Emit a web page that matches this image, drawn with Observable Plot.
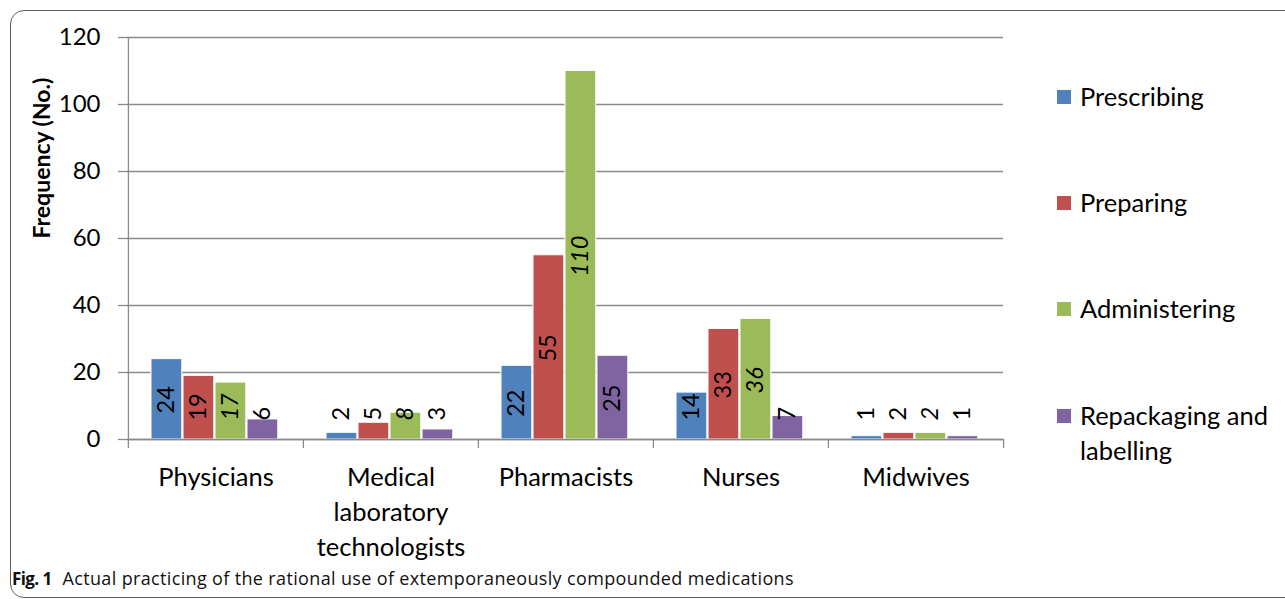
<!DOCTYPE html>
<html>
<head>
<meta charset="utf-8">
<script src="https://cdn.jsdelivr.net/npm/d3@7"></script>
<script src="https://cdn.jsdelivr.net/npm/@observablehq/plot@0.6"></script>
<style>
  body { margin: 0; background: #fff; }
  #wrap { position: relative; width: 1285px; height: 599px; overflow: hidden; background: #fff; font-family: Lato, "Open Sans", sans-serif; color: #000; }
  #frame { position: absolute; left: 10px; top: 10px; width: 1400px; height: 588px; border: 1.3px solid #5e5e5e; border-radius: 14px; box-sizing: border-box; }
  #chart { position: absolute; left: 0; top: 0; }
  #legend { position: absolute; left: 1057px; top: 0; }
  .item { position: absolute; left: 0; display: flex; align-items: flex-start; font-size: 25.5px; line-height: 35px; width: 228px; }
  .sw { width: 14px; height: 14px; margin-top: 11px; margin-right: 9px; flex: none; }
  #caption { position: absolute; left: 12px; top: 566px; font-family: "Open Sans", sans-serif; font-size: 18px; color: #111; white-space: nowrap; }
  #caption b { margin-right: 11px; letter-spacing: -0.6px; font-size: 17px; }
  #caption span { letter-spacing: 0.35px; }
</style>
</head>
<body>
<div id="wrap">
  <div id="frame"></div>
  <div id="chart"></div>
  <div id="legend"></div>
  <div id="caption"><b>Fig. 1</b><span>Actual practicing of the rational use of extemporaneously compounded medications</span></div>
</div>
<script>
// ---- data ----
const categories = ["Physicians", "Medical laboratory technologists", "Pharmacists", "Nurses", "Midwives"];
const categoryLabels = ["Physicians", "Medical\nlaboratory\ntechnologists", "Pharmacists", "Nurses", "Midwives"];
const series = ["Prescribing", "Preparing", "Administering", "Repackaging and labelling"];
const colors = ["#4F81BD", "#C0504D", "#9BBB59", "#8064A2"];
const prescribing = [24, 2, 22, 14, 1];
const preparing = [19, 5, 55, 33, 2];
const administering = [17, 8, 110, 36, 2];
const repackaging = [6, 3, 25, 7, 1];
const yTicks = [0, 20, 40, 60, 80, 100, 120];

const seriesValues = [prescribing, preparing, administering, repackaging];
const rows = series.flatMap((s, j) => categories.map((c, i) => ({category: c, series: s, j, value: seriesValues[j][i]})));

// ---- layout ----
const W = 1010, H = 560, mL = 127, mR = 7, mT = 37, mB = 121;
const band = (W - mL - mR) / categories.length;
const groupOffset = 23, barW = 31, step = 32;
const gray = "#8a8a8a";
const fs = 23.5;

const labelY = d => Math.max(d.value / 2 - String(d.value).length * 2.12, 5.67);

const marks = [
  Plot.gridY(yTicks, {stroke: gray, strokeOpacity: 1, strokeWidth: 1.3}),
  Plot.axisY(yTicks, {tickSize: 9, tickPadding: 18, stroke: gray, strokeWidth: 1.3, fontSize: 24, label: null, fill: "#000"}),
  Plot.text(["Frequency (No.)"], {frameAnchor: "left", rotate: -90, dx: -85, fontWeight: "bold", fontSize: 23, fill: "#000"}),
  ...series.map((s, j) => Plot.barY(rows.filter(d => d.j === j), {
    x: "category", y: "value", fill: colors[j], stroke: "#fff", strokeWidth: 1,
    insetLeft: groupOffset + j * step, insetRight: band - (groupOffset + j * step + barW)
  })),
  Plot.ruleY([0], {stroke: gray, strokeWidth: 1.3}),
  Plot.ruleX([categories[0]], {x: d => d, dx: -band / 2, y1: 120, y2: 0, insetBottom: -9, stroke: gray, strokeWidth: 1.3}),
  Plot.ruleX(categories.slice(1), {x: d => d, dx: -band / 2, y1: 0, y2: 0, insetBottom: -9, stroke: gray, strokeWidth: 1.3}),
  Plot.ruleX(categories.slice(-1), {x: d => d, dx: band / 2, y1: 0, y2: 0, insetBottom: -9, stroke: gray, strokeWidth: 1.3}),
  ...series.map((s, j) => Plot.text(rows.filter(d => d.j === j), {
    x: "category", y: labelY, text: d => String(d.value), rotate: -90, textAnchor: "start",
    dx: -band / 2 + groupOffset + j * step + barW / 2, fontSize: fs, fill: "#000",
    fontStyle: j === 2 ? "italic" : "normal"
  })),
  Plot.text(categories, {x: d => d, text: (d, i) => categoryLabels[i], frameAnchor: "bottom", lineAnchor: "top", dy: 21, lineHeight: 1.38, fontSize: 25.5, fill: "#000"})
];

const chart = Plot.plot({
  width: W, height: H,
  marginLeft: mL, marginRight: mR, marginTop: mT, marginBottom: mB,
  style: {fontFamily: "Lato, 'Open Sans', sans-serif", color: "#000", background: "transparent", overflow: "visible"},
  x: {type: "band", domain: categories, padding: 0, axis: null},
  y: {domain: [0, 120], axis: null},
  marks
});
document.getElementById("chart").appendChild(chart);

// legend
const legend = document.getElementById("legend");
const centers = [96, 202, 308, 415];
series.forEach((s, j) => {
  const it = document.createElement("div");
  it.className = "item";
  it.style.top = (centers[j] - 17.5) + "px";
  const sw = document.createElement("div");
  sw.className = "sw";
  sw.style.background = colors[j];
  const t = document.createElement("div");
  t.textContent = s;
  it.appendChild(sw); it.appendChild(t);
  legend.appendChild(it);
});
</script>
</body>
</html>
